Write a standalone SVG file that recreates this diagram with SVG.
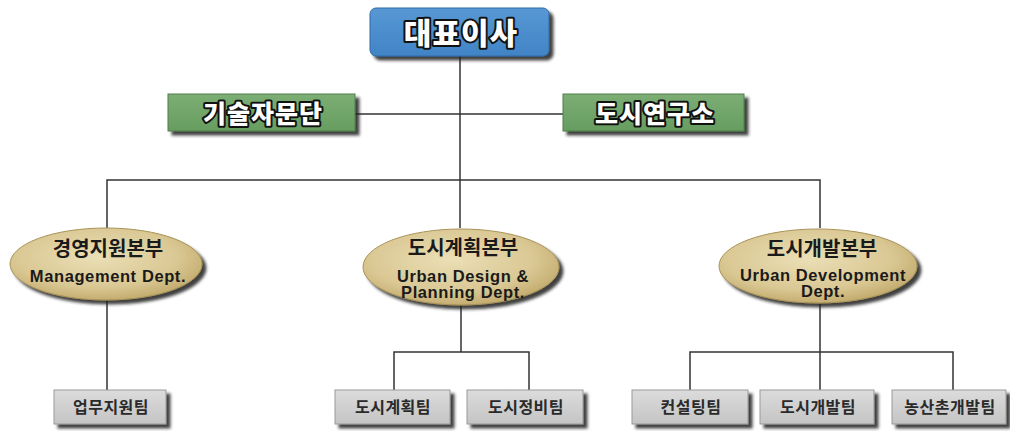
<svg xmlns="http://www.w3.org/2000/svg" width="1010" height="431" viewBox="0 0 1010 431">
<defs>
<linearGradient id="gBlue" x1="0" y1="0" x2="0" y2="1">
<stop offset="0" stop-color="#5798d4"/><stop offset="1" stop-color="#4184c6"/>
</linearGradient>
<linearGradient id="gGreen" x1="0" y1="0" x2="0" y2="1">
<stop offset="0" stop-color="#7cae74"/><stop offset="1" stop-color="#679d60"/>
</linearGradient>
<linearGradient id="gGray" x1="0" y1="0" x2="0" y2="1">
<stop offset="0" stop-color="#dcdcdc"/><stop offset="1" stop-color="#c4c4c4"/>
</linearGradient>
<radialGradient id="gTan" cx="0.45" cy="0.4" r="0.6">
<stop offset="0" stop-color="#ebdfb6"/><stop offset="0.7" stop-color="#dac894"/><stop offset="1" stop-color="#c4ad70"/>
</radialGradient>
<filter id="sh" x="-10%" y="-20%" width="130%" height="150%">
<feGaussianBlur in="SourceAlpha" stdDeviation="1.5"/>
<feOffset dx="4" dy="4" result="o"/>
<feFlood flood-color="#222" flood-opacity="0.85"/>
<feComposite in2="o" operator="in"/>
<feMerge><feMergeNode/><feMergeNode in="SourceGraphic"/></feMerge>
</filter>
</defs>
<style>
.ln{fill:none;stroke:#333;stroke-width:1.5}
.t1{font-family:"Noto Sans CJK KR","Liberation Sans",sans-serif;font-weight:900;fill:#fff;stroke:#111;stroke-width:4;paint-order:stroke;stroke-linejoin:round;text-anchor:middle;letter-spacing:1px}
.ko{font-family:"Noto Sans CJK KR","Liberation Sans",sans-serif;font-weight:700;font-size:20px;fill:#1a1a1a;text-anchor:middle}
.en{font-family:"Liberation Sans","Noto Sans",sans-serif;font-weight:700;font-size:16.5px;fill:#1a1a1a;text-anchor:middle;letter-spacing:0.6px}
.tm{font-family:"Noto Sans CJK KR","Liberation Sans",sans-serif;font-weight:700;font-size:16px;fill:#2a2a2a;text-anchor:middle;letter-spacing:0.5px}
</style>
<rect width="1010" height="431" fill="#fff"/>
<g id="connectors">
<line class="ln" x1="460" y1="56" x2="460" y2="180"/>
<line class="ln" x1="355" y1="114" x2="563" y2="114"/>
<polyline class="ln" points="107,228 107,180 820,180 820,228"/>
<line class="ln" x1="460" y1="180" x2="460" y2="228"/>
<line class="ln" x1="107" y1="300" x2="107" y2="390"/>
<line class="ln" x1="461" y1="305" x2="461" y2="352"/>
<polyline class="ln" points="394,390 394,352 529,352 529,390"/>
<line class="ln" x1="820" y1="304" x2="820" y2="390"/>
<polyline class="ln" points="690,390 690,352 953,352 953,390"/>
</g>
<g id="ceo">
<rect x="370" y="8" width="179" height="48" rx="6" fill="url(#gBlue)" stroke="#2f6aa5" stroke-width="1" filter="url(#sh)"/>
<text class="t1" x="461" y="44" font-size="30">대표이사</text>
</g>
<g id="advisory">
<rect x="168" y="94" width="187" height="37" fill="url(#gGreen)" stroke="#4f7f4a" stroke-width="1" filter="url(#sh)"/>
<text class="t1" x="263" y="123" font-size="25">기술자문단</text>
</g>
<g id="institute">
<rect x="563" y="94" width="181" height="37" fill="url(#gGreen)" stroke="#4f7f4a" stroke-width="1" filter="url(#sh)"/>
<text class="t1" x="655" y="123" font-size="25">도시연구소</text>
</g>
<g id="mgmt">
<ellipse cx="106" cy="264" rx="96" ry="36" fill="url(#gTan)" stroke="#a89358" stroke-width="1" filter="url(#sh)"/>
<text class="ko" x="108" y="256">경영지원본부</text>
<text class="en" x="108" y="282">Management Dept.</text>
</g>
<g id="planning">
<ellipse cx="461" cy="267" rx="98" ry="38" fill="url(#gTan)" stroke="#a89358" stroke-width="1" filter="url(#sh)"/>
<text class="ko" x="463" y="255">도시계획본부</text>
<text class="en" x="463" y="282">Urban Design &amp;</text>
<text class="en" x="463" y="298">Planning Dept.</text>
</g>
<g id="development">
<ellipse cx="818" cy="266" rx="99" ry="37" fill="url(#gTan)" stroke="#a89358" stroke-width="1" filter="url(#sh)"/>
<text class="ko" x="822" y="256">도시개발본부</text>
<text class="en" x="823" y="281">Urban Development</text>
<text class="en" x="823" y="297">Dept.</text>
</g>
<g id="team1">
<rect x="54" y="390" width="112" height="34" fill="url(#gGray)" stroke="#999" stroke-width="1" filter="url(#sh)"/>
<text class="tm" x="111" y="413">업무지원팀</text>
</g>
<g id="team2">
<rect x="335" y="390" width="115" height="34" fill="url(#gGray)" stroke="#999" stroke-width="1" filter="url(#sh)"/>
<text class="tm" x="393" y="413">도시계획팀</text>
</g>
<g id="team3">
<rect x="467" y="390" width="116" height="34" fill="url(#gGray)" stroke="#999" stroke-width="1" filter="url(#sh)"/>
<text class="tm" x="526" y="413">도시정비팀</text>
</g>
<g id="team4">
<rect x="632" y="390" width="116" height="34" fill="url(#gGray)" stroke="#999" stroke-width="1" filter="url(#sh)"/>
<text class="tm" x="691" y="413">컨설팅팀</text>
</g>
<g id="team5">
<rect x="760" y="390" width="114" height="34" fill="url(#gGray)" stroke="#999" stroke-width="1" filter="url(#sh)"/>
<text class="tm" x="818" y="413">도시개발팀</text>
</g>
<g id="team6">
<rect x="892" y="390" width="114" height="34" fill="url(#gGray)" stroke="#999" stroke-width="1" filter="url(#sh)"/>
<text class="tm" x="950" y="413">농산촌개발팀</text>
</g>
</svg>
